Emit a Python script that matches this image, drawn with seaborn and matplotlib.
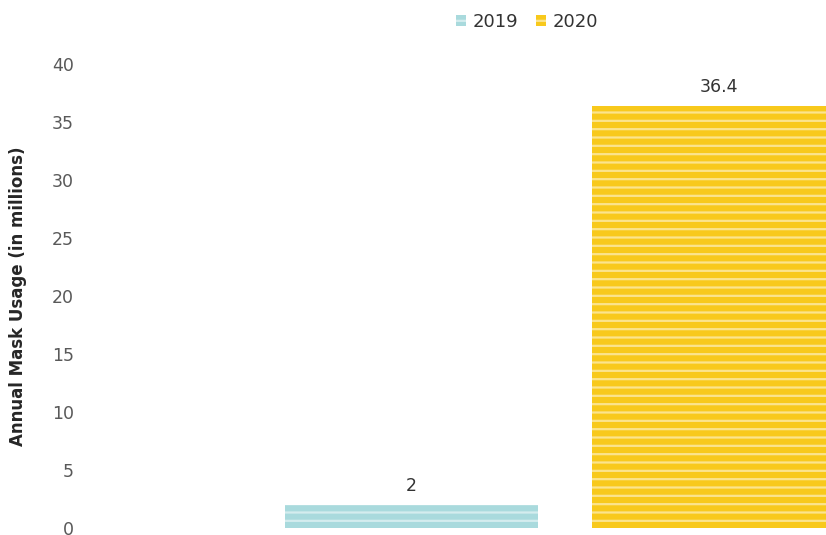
import numpy as np
import pandas as pd
from matplotlib import pyplot as plt
import seaborn as sns

# annual mask usage, one group, two years
years = ["2019", "2020"]
usage = [2, 36.4]
group = ["Masks", "Masks"]

df = pd.DataFrame({"group": group, "year": years, "usage": usage})

sns.set_style("white")
plt.rcParams["font.family"] = ["DejaVu Sans"]
plt.rcParams["hatch.linewidth"] = 1.6

fig = plt.figure(figsize=(8.26, 5.35), dpi=100)
ax = fig.add_axes([85 / 826, 7 / 535, 960 / 826, 464 / 535])

colors = ["#a9dadd", "#f8c91c"]
sns.barplot(data=df, x="group", y="usage", hue="year", palette=colors,
            saturation=1, width=0.64, gap=0.176, ax=ax, legend=True)

for bar in ax.patches:
    bar.set_hatch("--")
    bar.set_edgecolor((1, 1, 1, 0.5))
    bar.set_linewidth(0)

for cont in ax.containers:
    ax.bar_label(cont, fmt="%g", padding=7, fontsize=12.5, color="#333333")

ax.set_xlim(-0.5, 0.5)
ax.set_ylim(0, 40)
ax.set_yticks(range(0, 41, 5))
ax.tick_params(axis="y", labelsize=12.5, labelcolor="#595959", length=0, pad=8)
ax.set_xticks([])
ax.set_xlabel("")
ax.set_ylabel("Annual Mask Usage (in millions)", fontsize=12, color="#262626",
              fontweight="semibold")
ax.yaxis.set_label_coords(-58 / 960, 0.5)
sns.despine(ax=ax, left=True, bottom=True)

handles, labels = ax.get_legend_handles_labels()
fig.legend(handles, labels, loc="center", bbox_to_anchor=(527 / 826, 1 - 22 / 535),
           ncol=2, frameon=False, fontsize=13, handlelength=0.55, handleheight=0.55,
           handletextpad=0.35, columnspacing=1.0, labelcolor="#333333")
ax.get_legend().remove()

plt.savefig("out.png", dpi=100)
